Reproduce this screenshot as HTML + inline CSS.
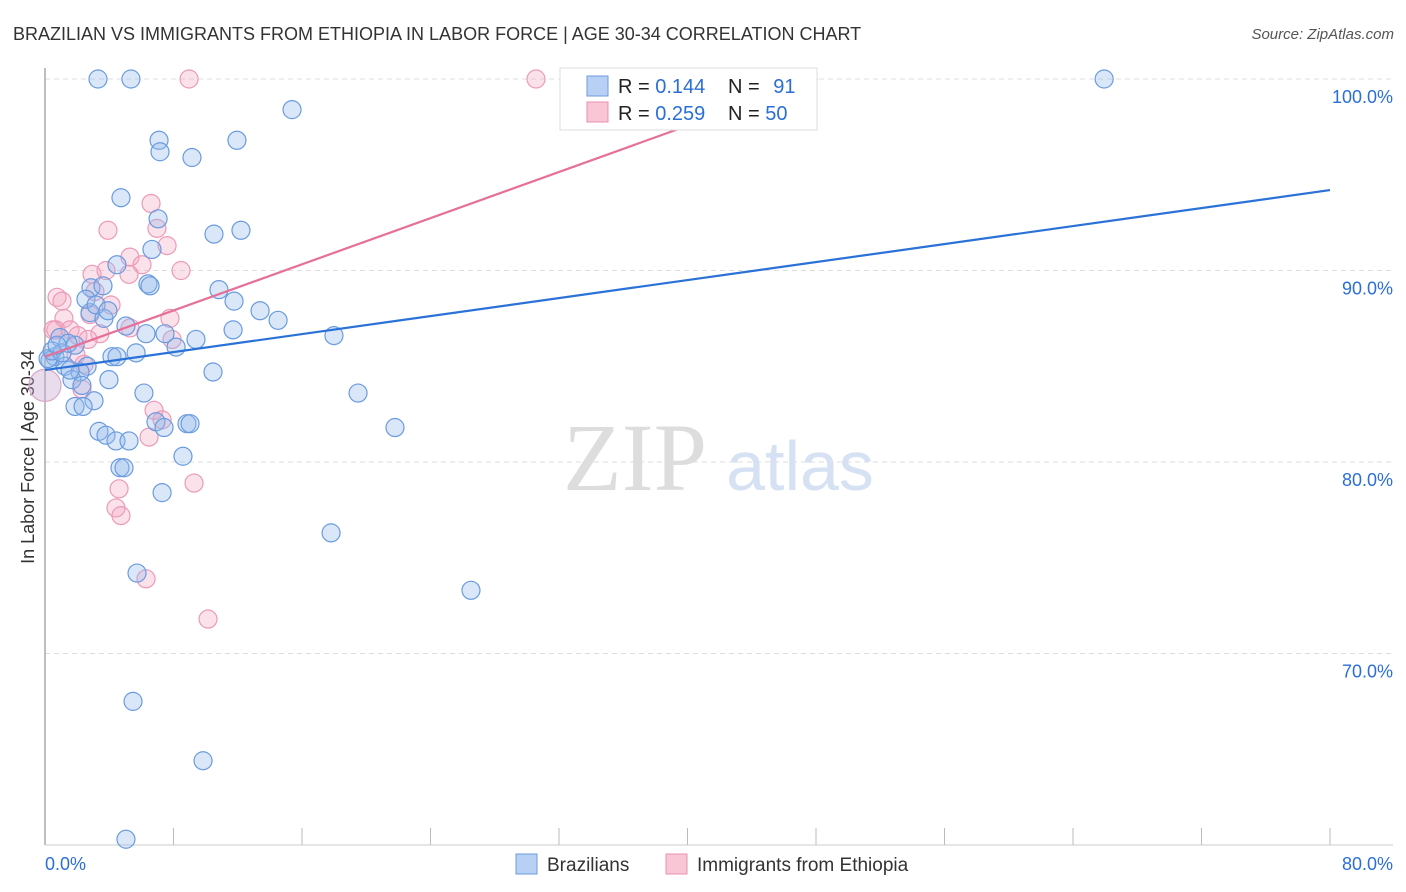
<!DOCTYPE html>
<html><head><meta charset="utf-8"><style>
body{margin:0;background:#fff;}
svg{display:block;font-family:"Liberation Sans",sans-serif;}
</style></head><body>
<svg id="chart" width="1406" height="892" viewBox="0 0 1406 892">
<text x="13" y="40" font-size="18" fill="#333">BRAZILIAN VS IMMIGRANTS FROM ETHIOPIA IN LABOR FORCE | AGE 30-34 CORRELATION CHART</text>
<text x="1394" y="39" font-size="15" fill="#555" font-style="italic" text-anchor="end">Source: ZipAtlas.com</text>
<text transform="translate(34,457) rotate(-90)" font-size="18" fill="#333" text-anchor="middle">In Labor Force | Age 30-34</text>
<g id="grid"></g>
<g id="ticks"></g>
<line x1="45" y1="68" x2="45" y2="845" stroke="#aaa" stroke-width="1.5"/>
<line x1="45" y1="845" x2="1393" y2="845" stroke="#ccc" stroke-width="1"/>
<g>
<text x="635" y="490" font-family="Liberation Serif,serif" font-size="96" fill="#ddd" text-anchor="middle">ZIP</text>
<text x="800" y="490" font-size="70" fill="#d6e2f3" text-anchor="middle">atlas</text>
</g>
<g id="pinkPts"></g>
<g id="bluePts"></g>
<g id="lines"></g>
<g>
<rect x="560" y="68" width="257" height="62" fill="#fff" stroke="#ddd"/>
<rect x="587" y="76" width="21" height="20" fill="#b7d0f4" stroke="#6f9be0"/>
<rect x="587" y="102" width="21" height="20" fill="#f9c6d6" stroke="#e890b0"/>
<text x="618" y="93" font-size="20" fill="#222">R = <tspan fill="#2b6fd6">0.144</tspan></text>
<text x="728" y="93" font-size="20" fill="#222">N = <tspan fill="#2b6fd6" dx="8">91</tspan></text>
<text x="618" y="120" font-size="20" fill="#222">R = <tspan fill="#2b6fd6">0.259</tspan></text>
<text x="728" y="120" font-size="20" fill="#222">N = <tspan fill="#2b6fd6">50</tspan></text>
</g>
<g>
<rect x="516" y="854" width="21" height="20" fill="#b7d0f4" stroke="#6f9be0"/>
<text x="547" y="871" font-size="19" fill="#333">Brazilians</text>
<rect x="666" y="854" width="21" height="20" fill="#f9c6d6" stroke="#e890b0"/>
<text x="697" y="871" font-size="19" fill="#333">Immigrants from Ethiopia</text>
</g>
<text x="45" y="870" font-size="18" fill="#2b6fd6">0.0%</text>
<text x="1393" y="870" font-size="18" fill="#2b6fd6" text-anchor="end">80.0%</text>
</svg>
<script>
const yTicks=[100,90,80,70];
const yTickLabels=["100.0%","90.0%","80.0%","70.0%"];
const xTicks=[0,8,16,24,32,40,48,56,64,72,80];
const blueX=[3.30,5.35,65.94,15.38,7.10,11.95,7.16,9.15,4.73,7.04,10.52,12.20,6.66,4.48,6.41,6.54,2.86,3.61,10.83,11.77,13.39,14.51,2.80,3.67,5.04,6.29,7.47,9.40,11.71,17.99,8.16,5.67,4.17,4.48,0.93,1.87,0.62,1.25,2.62,0.31,2.18,1.68,3.98,2.30,10.46,6.16,19.49,3.05,1.87,2.37,3.36,3.80,4.42,5.23,6.91,7.41,8.84,9.03,21.79,8.59,4.67,4.92,7.29,17.81,5.73,26.52,5.48,9.84,5.04,0.19,0.44,1.06,1.43,2.55,3.18,3.92,1.56,0.75];
const blueY=[100,100,100,98.4,96.8,96.8,96.2,95.9,93.8,92.7,91.9,92.1,91.1,90.3,89.3,89.2,89.1,89.2,89.0,88.4,87.9,87.4,87.8,87.5,87.1,86.7,86.7,86.4,86.9,86.6,86.0,85.7,85.5,85.5,86.5,86.1,85.5,85.0,85.0,85.3,84.7,84.3,84.3,84.0,84.7,83.6,83.6,83.2,82.9,82.9,81.6,81.4,81.1,81.1,82.1,81.8,82.0,82.0,81.8,80.3,79.7,79.7,78.4,76.3,74.2,73.3,67.5,64.4,60.3,85.4,85.8,85.7,86.2,88.5,88.2,87.9,84.8,86.1];
const pinkX=[8.97,30.57,6.60,3.92,6.97,7.60,5.29,6.04,2.93,3.80,5.23,8.47,0.75,1.06,3.11,4.11,2.80,1.18,7.78,5.29,0.68,1.56,3.42,2.05,7.91,2.68,1.93,2.43,2.30,6.79,7.29,6.48,9.28,4.61,4.42,4.73,6.29,10.15,0.50];
const pinkY=[100,100,93.5,92.1,92.2,91.3,90.7,90.3,89.8,90.0,89.8,90.0,88.6,88.4,88.9,88.2,87.7,87.5,87.5,87.0,86.9,86.9,86.7,86.6,86.4,86.4,85.6,85.1,83.8,82.7,82.2,81.3,78.9,78.6,77.6,77.2,73.9,71.8,86.9];
const bigPink=[0,84.0];
const blueTrend=[[0,84.8],[80,94.2]];
const pinkTrend=[[0,85.5],[48.1,100]];
const NS="http://www.w3.org/2000/svg";
const xs=v=>45+v*(1285/80);
const ys=v=>79+(100-v)*19.15;
function mk(tag,attrs,parent){const e=document.createElementNS(NS,tag);for(const k in attrs)e.setAttribute(k,attrs[k]);parent.appendChild(e);return e;}
const grid=document.getElementById('grid');
yTicks.forEach((t,i)=>{
 const l=mk('line',{x1:45,x2:1393,y1:ys(t),y2:ys(t),stroke:'#ddd','stroke-dasharray':'5,4'},grid);
 
 
 const tx=mk('text',{x:1393,y:ys(t)+24,'font-size':18,fill:'#2b6fd6','text-anchor':'end'},grid);
 tx.textContent=yTickLabels[i];
 
 
});
const tk=document.getElementById('ticks');
xTicks.forEach(t=>{
 const l=mk('line',{x1:xs(t),x2:xs(t),y1:828,y2:845,stroke:'#bbb'},tk);
 
 
});
const pg=document.getElementById('pinkPts');
pinkX.forEach((x,i)=>{
 const c=mk('circle',{cx:xs(x),cy:ys(pinkY[i]),r:9,fill:'rgba(244,168,196,0.35)',stroke:'#eb9ab8','stroke-width':1.2},pg);
 
 
});
const bp=mk('circle',{cx:xs(bigPink[0]),cy:ys(bigPink[1]),r:16,fill:'rgba(200,170,210,0.4)',stroke:'#d8a8c8','stroke-width':1.2},pg);


const bg=document.getElementById('bluePts');
blueX.forEach((x,i)=>{
 const c=mk('circle',{cx:xs(x),cy:ys(blueY[i]),r:9,fill:'rgba(150,185,235,0.35)',stroke:'#6a9be0','stroke-width':1.2},bg);
 
 
});
const lg=document.getElementById('lines');
const pl=mk('line',{x1:xs(pinkTrend[0][0]),y1:ys(pinkTrend[0][1]),x2:xs(pinkTrend[1][0]),y2:ys(pinkTrend[1][1]),stroke:'#e5709a','stroke-width':2.2},lg);


const bl=mk('line',{x1:xs(blueTrend[0][0]),y1:ys(blueTrend[0][1]),x2:xs(blueTrend[1][0]),y2:ys(blueTrend[1][1]),stroke:'#2a72d8','stroke-width':2.2},lg);


</script>
</body></html>
